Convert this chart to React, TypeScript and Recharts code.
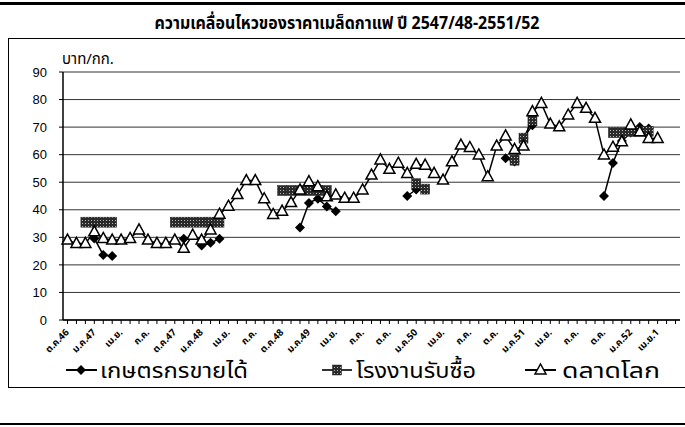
import { CartesianGrid, Line, LineChart, XAxis, YAxis } from "recharts";

const monthNames = ["ม.ค.", "ก.พ.", "มี.ค.", "เม.ย.", "พ.ค.", "มิ.ย.", "ก.ค.", "ส.ค.", "ก.ย.", "ต.ค.", "พ.ย.", "ธ.ค."];
// Oct 2546 (ต.ค.46) .. Jun 2552
const months: string[] = [];
for (let y = 46; y <= 52; y++) {
  monthNames.forEach((m, k) => {
    if (y === 46 && k < 9) return;
    if (y === 52 && k > 5) return;
    months.push(m + y);
  });
}

const tickLabels = [
  "ต.ค.46", "ม.ค.47", "เม.ย.", "ก.ค.", "ต.ค.47", "ม.ค.48", "เม.ย.", "ก.ค.",
  "ต.ค.48", "ม.ค.49", "เม.ย.", "ก.ค.", "ต.ค.", "ม.ค.50", "เม.ย.", "ก.ค.",
  "ต.ค.", "ม.ค.51", "เม.ย.", "ก.ค.", "ต.ค.", "ม.ค.52", "เม.ย.1",
];

const n = null;
// เกษตรกรขายได้ (farm gate)
const farmer = [
  n, n, n, 29.6, 23.6, 23.2, n, n, n, n, n, n,
  n, 29.5, n, 27, 28, 29.5, n, n, n, n, n, n,
  n, n, 33.6, 42.5, 44, 41.2, 39.5, n, n, n, n, n,
  n, n, 45, 47.4, 47.4, n, n, n, n, n, n, n,
  n, 58.7, 57.5, 66, 70.7, n, n, n, n, n, n, n,
  45, 57, 65, 68, 70, 69.5, n, n, n,
];
// โรงงานรับซื้อ (factory)
const factory = [
  n, n, 35.5, 35.5, 35.5, 35.5, n, n, n, n, n, n,
  35.5, 35.5, 35.5, 35.5, 35.5, 35.5, n, n, n, n, n, n,
  47, 47, 47, 47, 47, 47, n, n, n, n, n, n,
  n, n, n, 49.5, 47.5, n, n, n, n, n, n, n,
  n, n, 58, 66, 72.5, n, n, n, n, n, n, n,
  n, 68, 68, 68.5, 68.5, 68.5, n, n, n,
];
// ดลาดโลก (world market)
const world = [
  29, 27.8, 27.8, 32, 29.6, 29, 29, 29.6, 32.7, 29, 27.8, 27.8,
  29, 26, 30.8, 29, 32.7, 38.4, 41.3, 45.5, 50.6, 50.6, 44, 38.3,
  39.5, 42.6, 47.2, 50.2, 48.4, 44.7, 45.4, 44.2, 44.2, 47.2, 52.6, 58.1,
  54.7, 56.9, 53.2, 56.5, 56.2, 53.2, 50.8, 57.4, 63.5, 62.6, 59.9, 52,
  63.1, 66.8, 61.9, 63.1, 75.6, 78.6, 71.1, 70.1, 74.4, 78.6, 76.8, 73.2,
  59.9, 62.7, 64.7, 70.8, 68.3, 65.9, 65.9, n, n,
];

const yTicks = [0, 10, 20, 30, 40, 50, 60, 70, 80, 90];

const rows = months.map((m, i) => ({ m, i, farmer: farmer[i], factory: factory[i], world: world[i] }));

const thai = "Tahoma, 'Noto Sans Thai', 'Noto Sans', sans-serif";
const arial = "'Liberation Sans', Arial, sans-serif";

function Diamond({ cx, cy, value }: any) {
  if (value == null || cx == null) return null;
  return <polygon points={`${cx},${cy - 5} ${cx + 5},${cy} ${cx},${cy + 5} ${cx - 5},${cy}`} fill="#000" />;
}

function Square({ cx, cy, value }: any) {
  if (value == null || cx == null) return null;
  return <rect x={cx - 4.5} y={cy - 5} width={9} height={10} fill="url(#hatch)" stroke="#222" strokeWidth={0.5} />;
}

function Tri({ cx, cy, value }: any) {
  if (value == null || cx == null) return null;
  return (
    <polygon
      points={`${cx},${cy - 6} ${cx + 5.5},${cy + 4} ${cx - 5.5},${cy + 4}`}
      fill="#fff"
      stroke="#000"
      strokeWidth={1.5}
    />
  );
}

function MonthTick({ x, y, payload }: any) {
  const i = payload.value as number;
  if (i % 3 !== 0) return null;
  const label = tickLabels[i / 3];
  if (!label) return null;
  return (
    <text
      x={x + 2}
      y={y + 7}
      transform={`rotate(-45 ${x + 2} ${y + 7})`}
      textAnchor="end"
      fontSize={9.5}
      fontWeight="bold"
      fontFamily={thai}
      fill="#000"
    >
      {label}
    </text>
  );
}

function LegendSvg() {
  return (
    <svg width={685} height={34} style={{ position: "absolute", left: 0, top: 354 }}>
      <line x1={66} y1={16} x2={97} y2={16} stroke="#000" strokeWidth={2} />
      <polygon points="81,11 86,16 81,21 76,16" fill="#000" />
      <text x={100} y={24} fontSize={22} fontFamily={thai} fill="#000" textLength={148} lengthAdjust="spacingAndGlyphs">
        เกษตรกรขายได้
      </text>

      <line x1={322} y1={16} x2={352} y2={16} stroke="#333" strokeWidth={2} />
      <rect x={332.5} y={11} width={9} height={10} fill="url(#hatch)" stroke="#222" strokeWidth={0.5} />
      <text x={356} y={24} fontSize={22} fontFamily={thai} fill="#000" textLength={120} lengthAdjust="spacingAndGlyphs">
        โรงงานรับซื้อ
      </text>

      <line x1={525} y1={16} x2={556} y2={16} stroke="#000" strokeWidth={2} />
      <polygon points="540.5,10 546,20 535,20" fill="#fff" stroke="#000" strokeWidth={1.5} />
      <text x={562} y={24} fontSize={22} fontFamily={thai} fill="#000" textLength={98} lengthAdjust="spacingAndGlyphs">
        ดลาดโลก
      </text>
    </svg>
  );
}

export default function App() {
  return (
    <div style={{ position: "absolute", left: 0, top: 0, width: 685, height: 427, background: "#fff", overflow: "hidden" }}>
      <svg width={0} height={0} style={{ position: "absolute" }}>
        <defs>
          <pattern id="hatch" width={3} height={3} patternUnits="userSpaceOnUse">
            <rect width={3} height={3} fill="#2a2a2a" />
            <rect x={1} y={1} width={1} height={1} fill="#bbb" />
          </pattern>
        </defs>
      </svg>
      <div style={{ position: "absolute", left: 0, top: 2, width: 685, height: 3, background: "#000" }} />
      <svg width={685} height={36} style={{ position: "absolute", left: 0, top: 4 }}>
        <text
          x={347}
          y={25}
          textAnchor="middle"
          fontFamily={thai}
          fontWeight="bold"
          fontSize={17}
          fill="#000"
          textLength={385}
          lengthAdjust="spacingAndGlyphs"
        >
          ความเคลื่อนไหวของราคาเมล็ดกาแฟ ปี 2547/48-2551/52
        </text>
      </svg>
      <div
        style={{
          position: "absolute",
          left: 8,
          top: 38,
          width: 690,
          height: 348,
          borderLeft: "1.5px solid #000",
          borderTop: "1.5px solid #000",
          borderBottom: "1.5px solid #000",
        }}
      />
      <div style={{ position: "absolute", left: 0, top: 423, width: 685, height: 2, background: "#000" }} />
      <div style={{ position: "absolute", left: 62, top: 48, fontFamily: thai, fontSize: 15, color: "#000" }}>บาท/กก.</div>
      <div style={{ position: "absolute", left: 0, top: 0 }}>
        <LineChart width={685} height={427} data={rows} margin={{ top: 72, right: 5, left: 0, bottom: 62 }}>
          <CartesianGrid horizontal vertical={false} stroke="#333" strokeWidth={1} />
          <XAxis
            dataKey="i"
            interval={0}
            tick={<MonthTick />}
            tickSize={4}
            tickLine={{ stroke: "#000" }}
            axisLine={{ stroke: "#000", strokeWidth: 1.5 }}
            padding={{ left: 4.5, right: 4.5 }}
            height={45}
          />
          <YAxis
            domain={[0, 90]}
            ticks={yTicks}
            width={63}
            tickSize={4}
            tickMargin={12}
            tickLine={{ stroke: "#000" }}
            axisLine={{ stroke: "#000", strokeWidth: 1.5 }}
            tick={{ fill: "#000", fontSize: 13, fontFamily: arial }}
            interval={0}
          />
          <YAxis
            yAxisId="r"
            orientation="right"
            domain={[0, 90]}
            width={0}
            tick={false}
            tickLine={false}
            axisLine={{ stroke: "#000", strokeWidth: 1.5 }}
          />
          <Line dataKey="farmer" stroke="#000" strokeWidth={1.5} dot={<Diamond />} activeDot={false} isAnimationActive={false} />
          <Line dataKey="factory" stroke="#333" strokeWidth={1.5} dot={<Square />} activeDot={false} isAnimationActive={false} />
          <Line dataKey="world" stroke="#000" strokeWidth={1.5} dot={<Tri />} activeDot={false} isAnimationActive={false} />
        </LineChart>
      </div>
      <LegendSvg />
    </div>
  );
}
